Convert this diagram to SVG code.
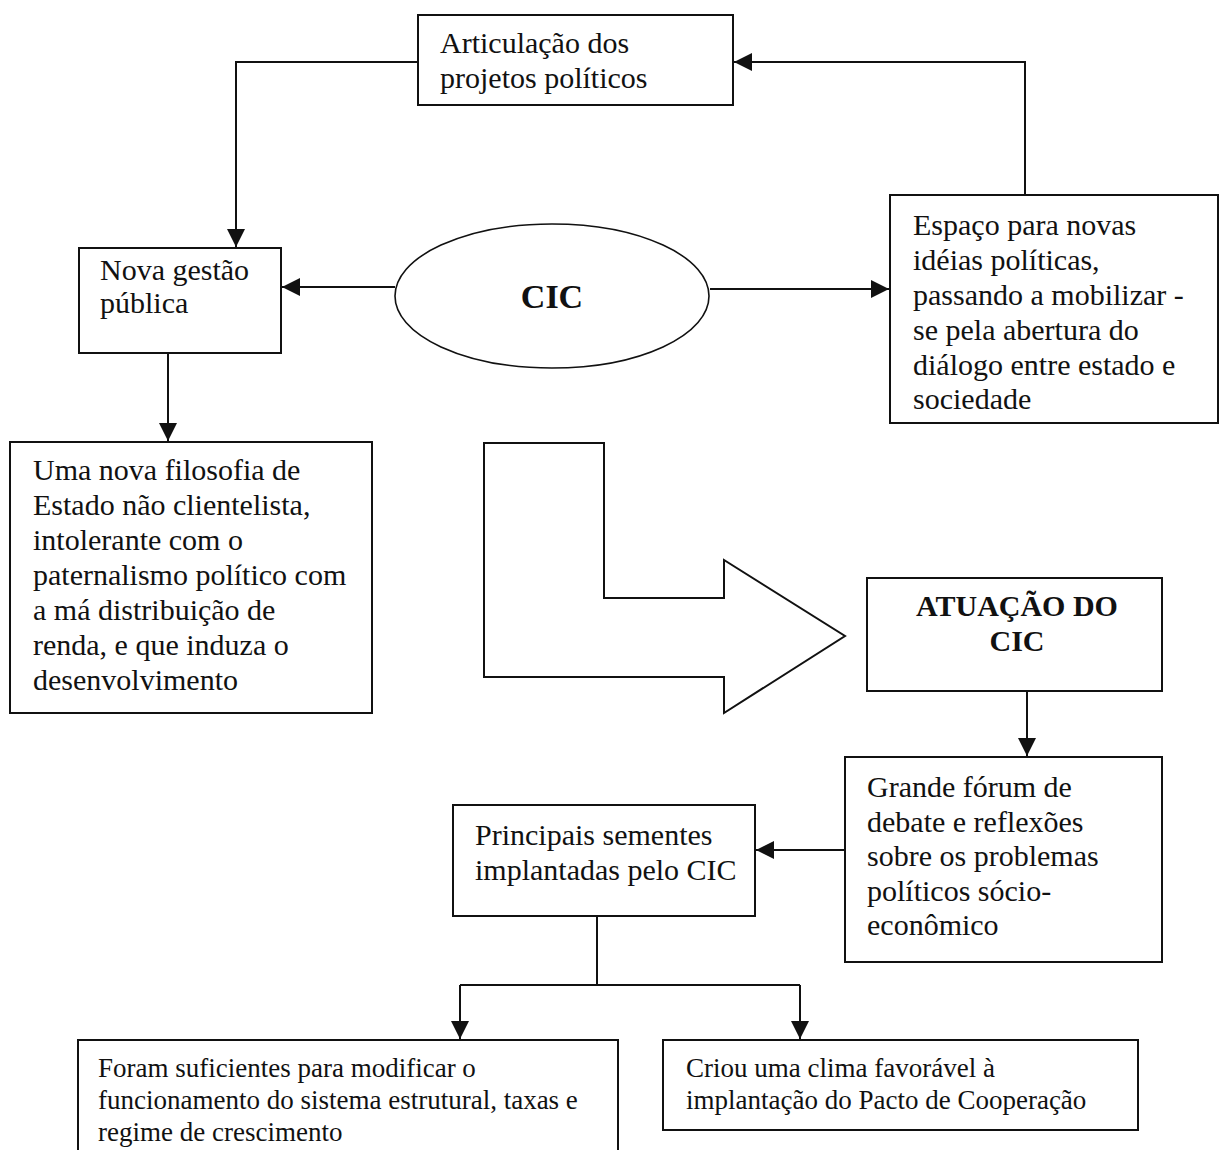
<svg xmlns="http://www.w3.org/2000/svg" width="1220" height="1150" viewBox="0 0 1220 1150">
<style>
.box{fill:#fff;stroke:#111;stroke-width:2}
.t{font-family:"Liberation Serif","Times New Roman",serif;font-size:30px;fill:#111}
.b{font-family:"Liberation Serif","Times New Roman",serif;font-weight:bold;fill:#111}
.s{font-family:"Liberation Serif","Times New Roman",serif;font-size:27px;fill:#111}
.c{fill:none;stroke:#111;stroke-width:2}
</style>
<defs>
<marker id="ah" markerUnits="userSpaceOnUse" markerWidth="20" markerHeight="20" refX="18" refY="9" orient="auto">
<path d="M0,0 L18,9 L0,18 Z" fill="#111"/>
</marker>
</defs>
<rect width="1220" height="1150" fill="#fff"/>
<g id="connectors">
<polyline class="c" points="418,62 236,62 236,247" marker-end="url(#ah)"/>
<polyline class="c" points="1025,195 1025,62 734,62" marker-end="url(#ah)"/>
<line class="c" x1="395" y1="287" x2="282" y2="287" marker-end="url(#ah)"/>
<line class="c" x1="710" y1="289" x2="889" y2="289" marker-end="url(#ah)"/>
<line class="c" x1="168" y1="353" x2="168" y2="441" marker-end="url(#ah)"/>
<line class="c" x1="1027" y1="691" x2="1027" y2="756" marker-end="url(#ah)"/>
<line class="c" x1="845" y1="850" x2="756" y2="850" marker-end="url(#ah)"/>
<polyline class="c" points="597,916 597,985"/>
<polyline class="c" points="460,985 800,985"/>
<line class="c" x1="460" y1="985" x2="460" y2="1039" marker-end="url(#ah)"/>
<line class="c" x1="800" y1="985" x2="800" y2="1039" marker-end="url(#ah)"/>
</g>
<g id="articulacao">
<rect class="box" x="418" y="15" width="315" height="90"/>
<text class="t" x="440" y="53">Articulação dos</text>
<text class="t" x="440" y="88">projetos políticos</text>
</g>
<g id="nova-gestao">
<rect class="box" x="79" y="248" width="202" height="105"/>
<text class="t" x="100" y="280">Nova gestão</text>
<text class="t" x="100" y="313">pública</text>
</g>
<g id="cic">
<ellipse cx="552" cy="296" rx="157" ry="72" fill="#fff" stroke="#111" stroke-width="1.6"/>
<text class="b" x="552" y="308" font-size="34" text-anchor="middle">CIC</text>
</g>
<g id="espaco">
<rect class="box" x="890" y="195" width="328" height="228"/>
<text class="t" x="913" y="235">Espaço para novas</text>
<text class="t" x="913" y="270">idéias políticas,</text>
<text class="t" x="913" y="305">passando a mobilizar -</text>
<text class="t" x="913" y="340">se pela abertura do</text>
<text class="t" x="913" y="375">diálogo entre estado e</text>
<text class="t" x="913" y="409">sociedade</text>
</g>
<g id="filosofia">
<rect class="box" x="10" y="442" width="362" height="271"/>
<text class="t" x="33" y="480">Uma nova filosofia de</text>
<text class="t" x="33" y="515">Estado não clientelista,</text>
<text class="t" x="33" y="550">intolerante com o</text>
<text class="t" x="33" y="585">paternalismo político com</text>
<text class="t" x="33" y="620">a má distribuição de</text>
<text class="t" x="33" y="655">renda, e que induza o</text>
<text class="t" x="33" y="690">desenvolvimento</text>
</g>
<g id="big-arrow">
<polygon points="484,443 604,443 604,598 724,598 724,560 845,636 724,713 724,677 484,677" fill="#fff" stroke="#111" stroke-width="2"/>
</g>
<g id="atuacao">
<rect class="box" x="867" y="578" width="295" height="113"/>
<text class="b" x="1017" y="616" font-size="30" text-anchor="middle">ATUAÇÃO DO</text>
<text class="b" x="1017" y="651" font-size="30" text-anchor="middle">CIC</text>
</g>
<g id="forum">
<rect class="box" x="845" y="757" width="317" height="205"/>
<text class="t" x="867" y="797">Grande fórum de</text>
<text class="t" x="867" y="832">debate e reflexões</text>
<text class="t" x="867" y="866">sobre os problemas</text>
<text class="t" x="867" y="901">políticos sócio-</text>
<text class="t" x="867" y="935">econômico</text>
</g>
<g id="sementes">
<rect class="box" x="453" y="805" width="302" height="111"/>
<text class="t" x="475" y="845">Principais sementes</text>
<text class="t" x="475" y="880">implantadas pelo CIC</text>
</g>
<g id="foram">
<rect class="box" x="78" y="1040" width="540" height="120"/>
<text class="s" x="98" y="1077">Foram suficientes para modificar o</text>
<text class="s" x="98" y="1109">funcionamento do sistema estrutural, taxas e</text>
<text class="s" x="98" y="1141">regime de crescimento</text>
</g>
<g id="criou">
<rect class="box" x="663" y="1040" width="475" height="90"/>
<text class="s" x="686" y="1077">Criou uma clima favorável à</text>
<text class="s" x="686" y="1109">implantação do Pacto de Cooperação</text>
</g>
</svg>
